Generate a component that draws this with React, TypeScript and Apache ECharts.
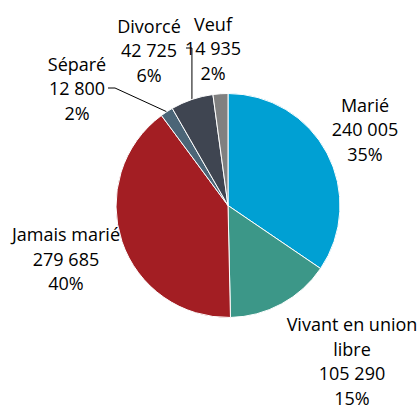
import React, { useEffect, useRef } from "react";
import * as echarts from "echarts";

const categories = ["Marié", "Vivant en union libre", "Jamais marié", "Séparé", "Divorcé", "Veuf"];
const labelNames = ["Marié", "Vivant en union\nlibre", "Jamais marié", "Séparé", "Divorcé", "Veuf"];
const values = [240005, 105290, 279685, 12800, 42725, 14935];
const percents = [35, 15, 40, 2, 6, 2];
const colors = ["#00A0D3", "#3C9788", "#A31E23", "#4B6577", "#3F4551", "#808080"];

const CENTER = [228, 205.5];
const RADIUS = 112;
// label block centers (layout only)
const labelPos = [
  [365, 129],
  [352, 361],
  [66, 258.5],
  [77, 88],
  [149, 50],
  [213, 48],
];

function fmt(v: number) {
  return String(v).replace(/\B(?=(\d{3})+(?!\d))/g, " ");
}

function edgePoint(i: number) {
  const total = values.reduce((a, b) => a + b, 0);
  let before = 0;
  for (let k = 0; k < i; k++) before += values[k];
  const mid = (before + values[i] / 2) / total;
  const ang = mid * Math.PI * 2;
  return [CENTER[0] + RADIUS * Math.sin(ang), CENTER[1] - RADIUS * Math.cos(ang)];
}

export default function App() {
  const ref = useRef<HTMLDivElement>(null);
  useEffect(() => {
    const chart = echarts.init(ref.current!, null, { renderer: "svg" });
    chart.setOption({
      animation: false,
      backgroundColor: "#ffffff",
      series: [
        {
          type: "pie",
          center: CENTER,
          radius: RADIUS,
          startAngle: 90,
          clockwise: true,
          avoidLabelOverlap: false,
          itemStyle: { borderColor: "#ffffff", borderWidth: 1 },
          label: {
            show: true,
            position: "outside",
            fontFamily: "Open Sans",
            fontSize: 18,
            lineHeight: 24.5,
            color: "#000000",
            align: "center",
            formatter: (p: any) =>
              `${labelNames[p.dataIndex]}\n${fmt(values[p.dataIndex])}\n${percents[p.dataIndex]}%`,
          },
          labelLine: { show: false, lineStyle: { color: "#000000", width: 1 } },
          labelLayout: (params: any) => {
            const i = params.dataIndex;
            const p = labelPos[i];
            const res: any = { x: p[0], y: p[1], align: "center", verticalAlign: "middle" };
            if (i === 3) {
              res.labelLinePoints = [edgePoint(3), [115, 88], [108, 88]];
            } else if (i === 4) {
              const e = edgePoint(4);
              res.labelLinePoints = [e, [e[0], 48], [186, 48]];
            }
            return res;
          },
          data: categories.map((name, i) => ({
            name,
            value: values[i],
            itemStyle: { color: colors[i] },
            labelLine: { show: i === 3 || i === 4 },
          })),
        },
      ],
    });
    return () => chart.dispose();
  }, []);
  return (
    <div
      ref={ref}
      style={{ position: "absolute", left: 0, top: 0, width: 420, height: 407 }}
    />
  );
}
